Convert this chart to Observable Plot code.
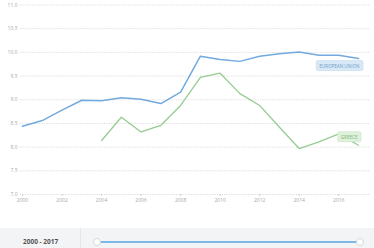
<!DOCTYPE html>
<html>
<head>
<meta charset="utf-8">
<script src="https://cdn.jsdelivr.net/npm/d3@7"></script>
<script src="https://cdn.jsdelivr.net/npm/@observablehq/plot@0.6"></script>
<style>
  html, body { margin:0; padding:0; background:#fff; width:374px; height:248px; overflow:hidden; font-family:"Open Sans", sans-serif; }
  #chart { position:relative; width:374px; height:228px; }
  #footer { position:relative; width:374px; height:28px; background:#f3f4f6; }
  #footer .range { position:absolute; left:23px; top:9px; font-size:6.5px; font-weight:700; color:#555; line-height:10px; }
  #footer .sep { position:absolute; left:80px; top:0; width:1px; height:28px; background:#e6e7ea; }
  #footer .track { position:absolute; left:97px; width:262px; top:13px; height:2px; background:#7db9e8; border-radius:1px; }
  #footer .knob { position:absolute; top:9.5px; width:8px; height:8px; border-radius:50%; background:#fff; border:0.5px solid #d4d6da; box-sizing:border-box; }
</style>
</head>
<body>
<div id="chart"></div>
<div id="footer">
  <div class="range">2000 - 2017</div>
  <div class="sep"></div>
  <div class="track"></div>
  <div class="knob" style="left:93px"></div>
  <div class="knob" style="left:356px"></div>
</div>
<script>
const years = [2000, 2001, 2002, 2003, 2004, 2005, 2006, 2007, 2008, 2009, 2010, 2011, 2012, 2013, 2014, 2015, 2016, 2017];
const euValues = [8.44, 8.56, 8.78, 8.99, 8.98, 9.04, 9.01, 8.92, 9.16, 9.92, 9.85, 9.81, 9.92, 9.97, 10.01, 9.94, 9.94, 9.87];
const greeceYears = [2004, 2005, 2006, 2007, 2008, 2009, 2010, 2011, 2012, 2013, 2014, 2015, 2016, 2017];
const greeceValues = [8.14, 8.63, 8.32, 8.46, 8.88, 9.47, 9.56, 9.13, 8.88, 8.42, 7.97, 8.11, 8.28, 8.04];
const seriesNames = ["EUROPEAN UNION", "GREECE"];
const yTicks = [7.0, 7.5, 8.0, 8.5, 9.0, 9.5, 10.0, 10.5, 11.0];
const xTicks = [2000, 2002, 2004, 2006, 2008, 2010, 2012, 2014, 2016];

const eu = years.map((y, i) => ({year: y, value: euValues[i], series: seriesNames[0]}));
const gr = greeceYears.map((y, i) => ({year: y, value: greeceValues[i], series: seriesNames[1]}));
const euLast = eu[eu.length - 1];
const grLast = gr[gr.length - 1];

const euColor = "#72aadf";
const grColor = "#96cc91";

const chart = Plot.plot({
  width: 374,
  height: 228,
  marginLeft: 22,
  marginRight: 16,
  marginTop: 4.5,
  marginBottom: 34,
  style: {fontFamily: "'Open Sans', sans-serif", fontSize: "5px", color: "#a8a8a8", background: "transparent", overflow: "visible"},
  x: {domain: [2000, 2017], label: null},
  y: {domain: [7, 11], label: null},
  marks: [
    Plot.ruleY(yTicks, {stroke: "#dcdcdc", strokeDasharray: "1.2,1.2", insetLeft: -2, insetRight: -12}),
    Plot.axisY(yTicks, {tickSize: 0, tickPadding: 5, tickFormat: d => d.toFixed(1), fontSize: 5, label: null}),
    Plot.axisX(xTicks, {tickSize: 2, tickPadding: 2, stroke: "#d0d0d0", tickFormat: d => String(d), fontSize: 5, label: null}),
    Plot.line(eu, {x: "year", y: "value", stroke: euColor, strokeWidth: 1.5}),
    Plot.line(gr, {x: "year", y: "value", stroke: grColor, strokeWidth: 1.3}),
    Plot.text([euLast], {x: "year", y: "value", text: "series", textAnchor: "end", dx: 1, dy: 7.5, fill: "#6d9fcc", fontSize: 4.6, className: "lbl lbl-eu"}),
    Plot.text([grLast], {x: "year", y: "value", text: "series", textAnchor: "end", dx: -1, dy: -8, fill: "#7db878", fontSize: 4.6, className: "lbl lbl-gr"})
  ]
});
document.getElementById("chart").append(chart);

// label boxes behind the end-of-line labels
function boxes(cls, fill, stroke) {
  chart.querySelectorAll("g." + cls + " text").forEach(t => {
    const b = t.getBBox();
    const r = document.createElementNS("http://www.w3.org/2000/svg", "rect");
    r.setAttribute("x", b.x - 3);
    r.setAttribute("y", b.y - 2);
    r.setAttribute("width", b.width + 6);
    r.setAttribute("height", b.height + 4);
    r.setAttribute("rx", 1.5);
    r.setAttribute("fill", fill);
    r.setAttribute("stroke", stroke);
    r.setAttribute("stroke-width", 0.5);
    const tr = t.getAttribute("transform");
    if (tr) r.setAttribute("transform", tr);
    t.parentNode.insertBefore(r, t);
  });
}
boxes("lbl-eu", "#d9e8f6", "#bdd6ee");
boxes("lbl-gr", "#dff0dc", "#c3e2be");
</script>
</body>
</html>
